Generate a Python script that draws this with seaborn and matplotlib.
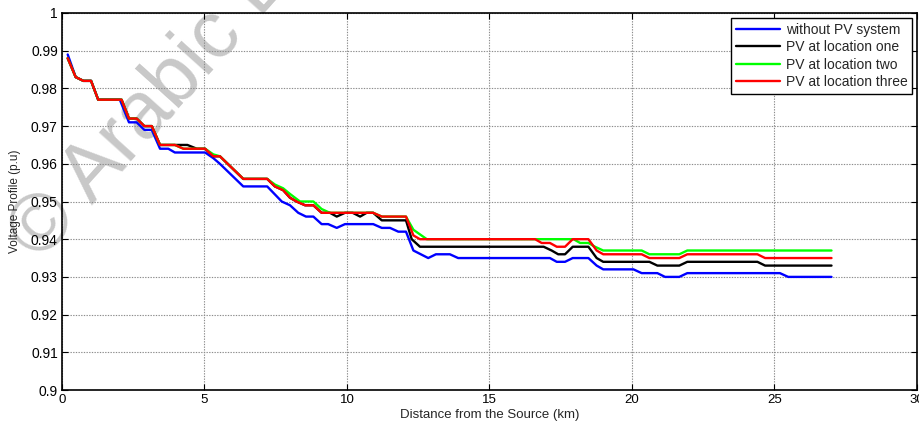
import matplotlib
matplotlib.use("Agg")
import matplotlib.pyplot as plt
import seaborn as sns
import pandas as pd

# Voltage profile along the feeder (distance in km, voltage in p.u.)
x_base = [0.2, 0.48, 0.75, 1.02, 1.27, 2.03, 2.35, 2.62, 2.89, 3.15, 3.44, 3.73, 3.96,
          5.02, 5.31, 5.54, 6.36, 7.2, 7.71, 8.0, 8.29, 8.56, 8.82, 9.11, 9.34, 9.64,
          9.93, 10.92, 11.22, 11.51, 11.8, 12.07, 12.33, 12.85, 13.12, 13.61, 13.9,
          17.12, 17.36, 17.65, 17.92, 18.47, 18.76, 18.99, 20.05, 20.34, 20.89, 21.16,
          21.66, 21.94, 25.19, 25.48, 27.0]
v_base = [0.989, 0.983, 0.982, 0.982, 0.977, 0.977, 0.971, 0.971, 0.969, 0.969, 0.964,
          0.964, 0.963, 0.963, 0.9615, 0.960, 0.954, 0.954, 0.950, 0.949, 0.947, 0.946,
          0.946, 0.944, 0.944, 0.943, 0.944, 0.944, 0.943, 0.943, 0.942, 0.942, 0.937,
          0.935, 0.936, 0.936, 0.935, 0.935, 0.934, 0.934, 0.935, 0.935, 0.933, 0.932,
          0.932, 0.931, 0.931, 0.930, 0.930, 0.931, 0.931, 0.930, 0.930]

x_loc1 = [0.2, 0.48, 0.75, 1.02, 1.27, 2.09, 2.35, 2.62, 2.89, 3.15, 3.44, 4.4, 4.73,
          5.02, 5.31, 5.54, 6.36, 7.2, 7.47, 7.76, 8.0, 8.23, 8.53, 8.82, 9.11, 9.4,
          9.64, 9.93, 10.2, 10.46, 10.69, 10.92, 11.22, 12.07, 12.27, 12.56, 16.9,
          17.18, 17.41, 17.65, 17.92, 18.47, 18.76, 18.99, 20.61, 20.89, 21.66, 21.94,
          24.4, 24.67, 27.0]
v_loc1 = [0.988, 0.983, 0.982, 0.982, 0.977, 0.977, 0.972, 0.972, 0.970, 0.970, 0.965,
          0.965, 0.964, 0.964, 0.962, 0.962, 0.956, 0.956, 0.954, 0.953, 0.951, 0.950,
          0.949, 0.949, 0.947, 0.947, 0.946, 0.947, 0.947, 0.946, 0.947, 0.947, 0.945,
          0.945, 0.940, 0.938, 0.938, 0.937, 0.936, 0.936, 0.938, 0.938, 0.935, 0.934,
          0.934, 0.933, 0.933, 0.934, 0.934, 0.933, 0.933]

x_loc2 = [0.2, 0.48, 0.75, 1.02, 1.27, 2.09, 2.35, 2.62, 2.89, 3.15, 3.44, 3.96, 4.26,
          5.02, 5.31, 5.54, 6.36, 7.2, 7.47, 7.76, 8.0, 8.35, 8.82, 9.11, 9.4, 10.92,
          11.22, 12.07, 12.33, 12.8, 17.95, 18.18, 18.47, 18.7, 18.99, 20.34, 20.61,
          21.66, 21.94, 27.0]
v_loc2 = [0.988, 0.983, 0.982, 0.982, 0.977, 0.977, 0.972, 0.972, 0.970, 0.970, 0.965,
          0.965, 0.964, 0.964, 0.9625, 0.962, 0.956, 0.956, 0.9545, 0.9535, 0.952, 0.950,
          0.950, 0.948, 0.947, 0.947, 0.946, 0.946, 0.9425, 0.940, 0.940, 0.939, 0.939,
          0.938, 0.937, 0.937, 0.936, 0.936, 0.937, 0.937]

x_loc3 = [0.2, 0.48, 0.75, 1.02, 1.27, 2.09, 2.35, 2.62, 2.89, 3.15, 3.44, 3.96, 4.26,
          5.02, 5.31, 5.54, 6.36, 7.2, 7.47, 7.76, 8.0, 8.23, 8.53, 8.82, 9.11, 10.92,
          11.22, 12.07, 12.33, 12.56, 16.6, 16.83, 17.12, 17.36, 17.65, 17.92, 18.47,
          18.76, 18.99, 20.34, 20.61, 21.66, 21.94, 24.4, 24.67, 27.0]
v_loc3 = [0.988, 0.983, 0.982, 0.982, 0.977, 0.977, 0.972, 0.972, 0.970, 0.970, 0.965,
          0.965, 0.964, 0.964, 0.962, 0.962, 0.956, 0.956, 0.954, 0.953, 0.951, 0.950,
          0.949, 0.949, 0.947, 0.947, 0.946, 0.946, 0.941, 0.940, 0.940, 0.939, 0.939,
          0.938, 0.938, 0.940, 0.940, 0.937, 0.936, 0.936, 0.935, 0.935, 0.936, 0.936,
          0.935, 0.935]

series_names = ["without PV system", "PV at location one",
                "PV at location two", "PV at location three"]
series_colors = ["#0000ff", "#000000", "#00ff00", "#ff0000"]

x_ticks = [0, 5, 10, 15, 20, 25, 30]
y_ticks = [0.9, 0.91, 0.92, 0.93, 0.94, 0.95, 0.96, 0.97, 0.98, 0.99, 1.0]
y_tick_labels = ["0.9", "0.91", "0.92", "0.93", "0.94", "0.95", "0.96", "0.97",
                 "0.98", "0.99", "1"]

frames = []
for name, xs, vs in zip(series_names,
                        [x_base, x_loc1, x_loc2, x_loc3],
                        [v_base, v_loc1, v_loc2, v_loc3]):
    frames.append(pd.DataFrame({"dist": xs, "volt": vs, "case": name}))
df = pd.concat(frames, ignore_index=True)

sns.set_theme(style="ticks")
plt.rcParams["font.family"] = ["Liberation Sans", "DejaVu Sans"]

fig = plt.figure(figsize=(9.2, 4.3), dpi=100)
ax = fig.add_axes([62 / 920, 1 - 390 / 430, (917 - 62) / 920, (390 - 13) / 430])
ax.patch.set_alpha(0)

# faint diagonal copyright mark behind the plot
fig.text(40 / 920, 1 - 262 / 430, "\u00a9 Arabic D", fontsize=58, color="#c8c8c8",
         rotation=48, rotation_mode="anchor", ha="left", va="baseline", zorder=-5)

sns.lineplot(data=df, x="dist", y="volt", hue="case", hue_order=series_names,
             palette=series_colors, sort=False, estimator=None, units="case",
             linewidth=1.7, ax=ax)

ax.set_xlim(0, 30)
ax.set_ylim(0.9, 1.0)
ax.set_xticks(x_ticks)
ax.set_xticklabels([str(t) for t in x_ticks])
ax.set_yticks(y_ticks)
ax.set_yticklabels(y_tick_labels)
ax.grid(True, color="#8c8c8c", linestyle=(0, (1.2, 1.2)), linewidth=0.8)
ax.tick_params(direction="in", length=4, width=0.8, top=True, right=True,
               colors="black", pad=3)
ax.tick_params(axis="y", labelsize=10)
ax.tick_params(axis="x", labelsize=9.5)
for sp in ax.spines.values():
    sp.set_color("black")
    sp.set_linewidth(1.2)
    sp.set_visible(True)

ax.set_xlabel("Distance from the Source (km)", fontsize=9.5, labelpad=2)
ax.set_ylabel("Voltage Profile (p.u)", fontsize=8.5, labelpad=7)

leg = ax.legend(loc="upper right", fontsize=10, frameon=True, fancybox=False,
                handlelength=3.2, handletextpad=0.4, borderaxespad=0.35,
                borderpad=0.35, labelspacing=0.25)
leg.get_frame().set_edgecolor("black")
leg.get_frame().set_linewidth(1.0)
leg.get_frame().set_alpha(1)
for h in leg.get_lines():
    h.set_linewidth(1.7)
leg.set_title(None)

fig.savefig("out.png", dpi=100)
